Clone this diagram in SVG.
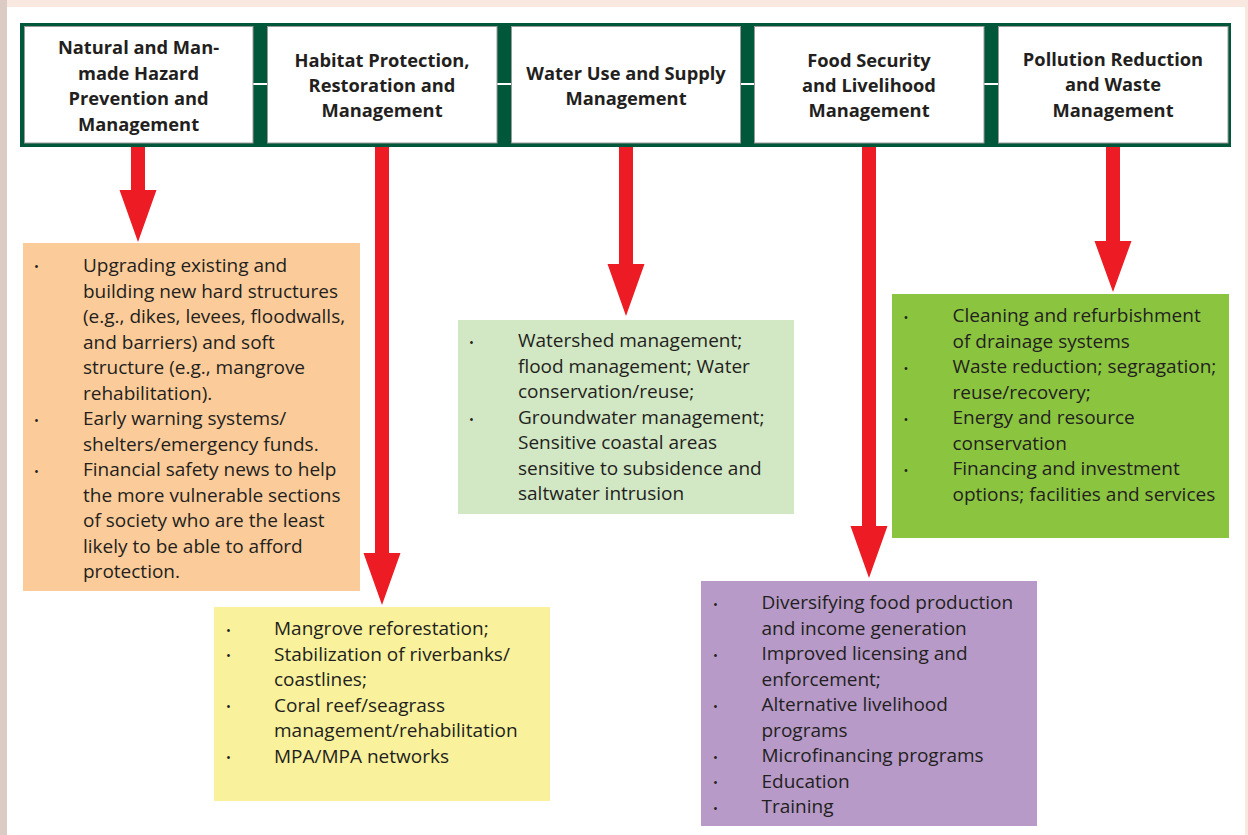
<svg xmlns="http://www.w3.org/2000/svg" width="1248" height="835" viewBox="0 0 1248 835">
<style>
.hd{font-family:"Open Sans","Liberation Sans",sans-serif;font-weight:700;font-size:18.3px;fill:#231f20;text-anchor:middle}
.tx{font-family:"Open Sans","Liberation Sans",sans-serif;font-size:19px;fill:#231f20}
.bu{font-family:"Open Sans","Liberation Sans",sans-serif;font-size:13px;fill:#231f20}
.hbox{fill:#ffffff;stroke:#9a9a9a;stroke-width:1}
.arrow{fill:#ed1c24}
</style>
<rect x="0" y="0" width="1248" height="835" fill="#f8e8df"/>
<rect x="0" y="0" width="7" height="835" fill="#dccbc5"/>
<rect x="7" y="7" width="1238" height="828" fill="#ffffff"/>

<g id="header">
<rect x="20" y="23" width="1211" height="124" fill="#00573a"/>
<rect x="253" y="83" width="14" height="2" fill="#ffffff"/>
<rect x="497" y="83" width="14" height="2" fill="#ffffff"/>
<rect x="741" y="83" width="13" height="2" fill="#ffffff"/>
<rect x="984" y="83" width="14" height="2" fill="#ffffff"/>
</g>

<g id="h1">
<rect class="hbox" x="24.5" y="26.5" width="228.5" height="116.5"/>
<text class="hd" x="138.5" y="54">Natural and Man-</text>
<text class="hd" x="138.5" y="79.5">made Hazard</text>
<text class="hd" x="138.5" y="105">Prevention and</text>
<text class="hd" x="138.5" y="130.5">Management</text>
</g>
<g id="h2">
<rect class="hbox" x="267.5" y="26.5" width="229.5" height="116.5"/>
<text class="hd" x="382" y="67">Habitat Protection,</text>
<text class="hd" x="382" y="92">Restoration and</text>
<text class="hd" x="382" y="117">Management</text>
</g>
<g id="h3">
<rect class="hbox" x="511.5" y="26.5" width="229" height="116.5"/>
<text class="hd" x="626" y="80">Water Use and Supply</text>
<text class="hd" x="626" y="105">Management</text>
</g>
<g id="h4">
<rect class="hbox" x="754.5" y="26.5" width="229.5" height="116.5"/>
<text class="hd" x="869" y="67">Food Security</text>
<text class="hd" x="869" y="92">and Livelihood</text>
<text class="hd" x="869" y="117">Management</text>
</g>
<g id="h5">
<rect class="hbox" x="998.5" y="26.5" width="229.5" height="116.5"/>
<text class="hd" x="1113" y="66">Pollution Reduction</text>
<text class="hd" x="1113" y="91">and Waste</text>
<text class="hd" x="1113" y="117">Management</text>
</g>

<g id="connectors">
<path class="arrow" d="M131 147H145V190H156.5L138 242L119.5 190H131Z"/>
<path class="arrow" d="M375 147H389V553H400.5L382 605L363.5 553H375Z"/>
<path class="arrow" d="M619 147H633V264H644.5L626 316L607.5 264H619Z"/>
<path class="arrow" d="M862 147H876V526H887.5L869 578L850.5 526H862Z"/>
<path class="arrow" d="M1106 147H1120V241H1131.5L1113 292L1094.5 241H1106Z"/>
</g>

<g id="b1">
<rect x="23" y="243" width="337" height="348" fill="#fbcb99"/>
<text class="bu" x="34" y="271">•</text>
<text class="bu" x="34" y="424.5">•</text>
<text class="bu" x="34" y="475.5">•</text>
<text class="tx" x="83" y="272">Upgrading existing and</text>
<text class="tx" x="83" y="297.5">building new hard structures</text>
<text class="tx" x="83" y="323">(e.g., dikes, levees, floodwalls,</text>
<text class="tx" x="83" y="348.5">and barriers) and soft</text>
<text class="tx" x="83" y="374">structure (e.g., mangrove</text>
<text class="tx" x="83" y="399.5">rehabilitation).</text>
<text class="tx" x="83" y="425">Early warning systems/</text>
<text class="tx" x="83" y="450.5">shelters/emergency funds.</text>
<text class="tx" x="83" y="476">Financial safety news to help</text>
<text class="tx" x="83" y="501.5">the more vulnerable sections</text>
<text class="tx" x="83" y="527">of society who are the least</text>
<text class="tx" x="83" y="552.5">likely to be able to afford</text>
<text class="tx" x="83" y="578">protection.</text>
</g>

<g id="b2">
<rect x="214" y="607" width="336" height="194" fill="#f9f19b"/>
<text class="bu" x="226" y="634.5">•</text>
<text class="bu" x="226" y="660">•</text>
<text class="bu" x="226" y="711">•</text>
<text class="bu" x="226" y="762">•</text>
<text class="tx" x="274" y="635">Mangrove reforestation;</text>
<text class="tx" x="274" y="660.5">Stabilization of riverbanks/</text>
<text class="tx" x="274" y="686">coastlines;</text>
<text class="tx" x="274" y="711.5">Coral reef/seagrass</text>
<text class="tx" x="274" y="737">management/rehabilitation</text>
<text class="tx" x="274" y="762.5">MPA/MPA networks</text>
</g>

<g id="b3">
<rect x="458" y="320" width="336" height="194" fill="#d2e7c4"/>
<text class="bu" x="469" y="347">•</text>
<text class="bu" x="469" y="423.5">•</text>
<text class="tx" x="518" y="347">Watershed management;</text>
<text class="tx" x="518" y="372.5">flood management; Water</text>
<text class="tx" x="518" y="398">conservation/reuse;</text>
<text class="tx" x="518" y="423.5">Groundwater management;</text>
<text class="tx" x="518" y="449">Sensitive coastal areas</text>
<text class="tx" x="518" y="474.5">sensitive to subsidence and</text>
<text class="tx" x="518" y="500">saltwater intrusion</text>
</g>

<g id="b4">
<rect x="701" y="581" width="336" height="245" fill="#b79ac8"/>
<text class="bu" x="713" y="608.5">•</text>
<text class="bu" x="713" y="659.5">•</text>
<text class="bu" x="713" y="710.5">•</text>
<text class="bu" x="713" y="761.5">•</text>
<text class="bu" x="713" y="787">•</text>
<text class="bu" x="713" y="812.5">•</text>
<text class="tx" x="761.5" y="609">Diversifying food production</text>
<text class="tx" x="761.5" y="634.5">and income generation</text>
<text class="tx" x="761.5" y="660">Improved licensing and</text>
<text class="tx" x="761.5" y="685.5">enforcement;</text>
<text class="tx" x="761.5" y="711">Alternative livelihood</text>
<text class="tx" x="761.5" y="736.5">programs</text>
<text class="tx" x="761.5" y="762">Microfinancing programs</text>
<text class="tx" x="761.5" y="787.5">Education</text>
<text class="tx" x="761.5" y="813">Training</text>
</g>

<g id="b5">
<rect x="892" y="294" width="337" height="244" fill="#8bc43f"/>
<text class="bu" x="903.5" y="321.5">•</text>
<text class="bu" x="903.5" y="372.5">•</text>
<text class="bu" x="903.5" y="423.5">•</text>
<text class="bu" x="903.5" y="474.5">•</text>
<text class="tx" x="952.5" y="322">Cleaning and refurbishment</text>
<text class="tx" x="952.5" y="347.5">of drainage systems</text>
<text class="tx" x="952.5" y="373">Waste reduction; segragation;</text>
<text class="tx" x="952.5" y="398.5">reuse/recovery;</text>
<text class="tx" x="952.5" y="424">Energy and resource</text>
<text class="tx" x="952.5" y="449.5">conservation</text>
<text class="tx" x="952.5" y="475">Financing and investment</text>
<text class="tx" x="952.5" y="500.5">options; facilities and services</text>
</g>
</svg>
